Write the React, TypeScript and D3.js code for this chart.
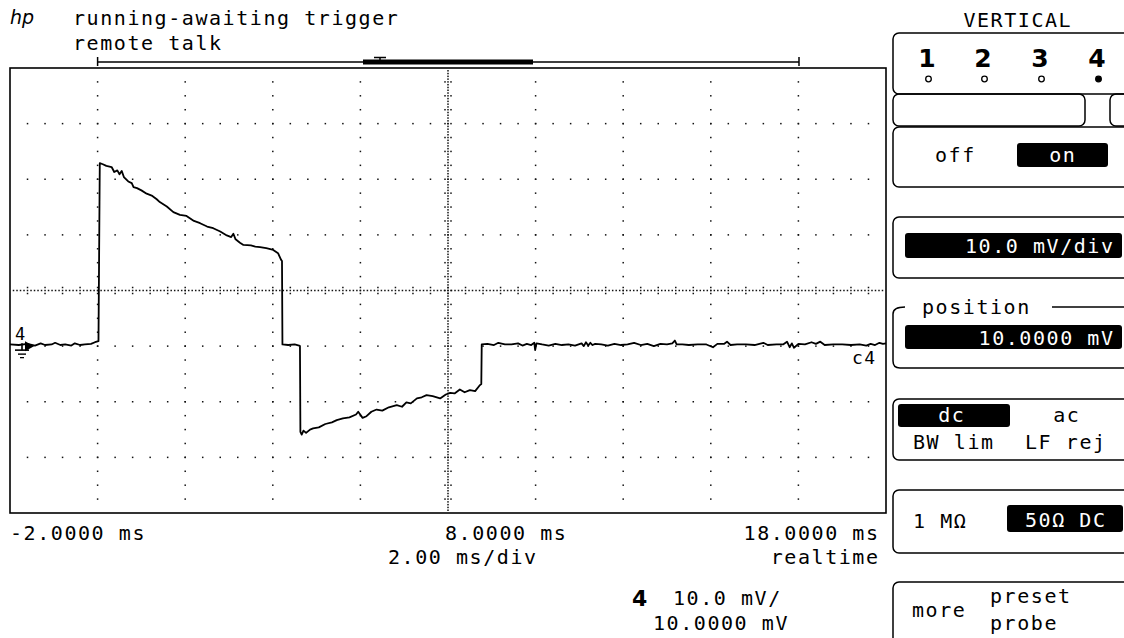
import React from "react";
import * as d3 from "d3";

// Channel 4 capture, time in ms and amplitude in mV
const preTrigger: [number, number][] = [
  [-2.0, 0.3], [-1.8, 0.2], [-1.6, 0.4], [-1.43, 0.1], [-1.3, 0.5], [-1.2, 0.2],
  [-1.05, 0.3], [-0.97, 0.6], [-0.85, 0.2], [-0.74, 0.3], [-0.6, 0.1], [-0.52, 0.5],
  [-0.4, 0.2], [-0.29, 0.3], [-0.15, 0.4], [-0.06, 0.7], [0.02, 0.9],
];

const positivePulse: [number, number][] = [
  [0.05, 32.9], [0.12, 32.7], [0.2, 32.4], [0.32, 32.2], [0.38, 31.3], [0.45, 31.6],
  [0.5, 30.9], [0.55, 31.5], [0.6, 30.4], [0.7, 29.6], [0.78, 29.3], [0.82, 28.6],
  [0.9, 28.4], [1.0, 28.0], [1.12, 27.4], [1.25, 27.0], [1.35, 26.4], [1.42, 25.9],
  [1.58, 25.1], [1.73, 24.1], [1.88, 23.6], [2.03, 23.4], [2.2, 22.5], [2.34, 22.1],
  [2.5, 21.5], [2.64, 21.2], [2.8, 20.6], [2.95, 19.9], [3.05, 19.6], [3.1, 20.2],
  [3.15, 19.2], [3.25, 18.6], [3.33, 18.2], [3.5, 18.1], [3.6, 17.9], [3.71, 17.8],
  [3.85, 17.6], [4.01, 17.3], [4.12, 16.7], [4.19, 15.5], [4.21, 15.3],
];

const midGap: [number, number][] = [
  [4.22, 0.3], [4.35, 0.2], [4.5, 0.3], [4.6, 0.1], [4.62, 0.0],
];

const negativePulse: [number, number][] = [
  [4.63, -15.4], [4.66, -15.9], [4.7, -15.2], [4.76, -15.6], [4.85, -15.0], [4.92, -14.8],
  [5.05, -14.6], [5.2, -14.0], [5.35, -13.7], [5.46, -13.3], [5.6, -13.0], [5.75, -12.8],
  [5.9, -12.3], [5.95, -11.8], [6.05, -12.9], [6.14, -12.6], [6.25, -11.8], [6.37, -11.4],
  [6.5, -11.6], [6.65, -11.0], [6.83, -10.6], [6.95, -10.9], [7.05, -10.1], [7.15, -10.3],
  [7.29, -9.4], [7.4, -9.2], [7.51, -8.8], [7.65, -9.0], [7.82, -9.4], [7.95, -8.7],
  [8.05, -8.4], [8.15, -8.5], [8.27, -7.8], [8.38, -8.3], [8.5, -7.9], [8.62, -8.1],
  [8.73, -7.0], [8.76, -6.8],
];

const postPulse: [number, number][] = [
  [8.77, 0.3], [8.9, 0.4], [9.05, 0.2], [9.15, 0.6], [9.3, 0.3], [9.45, 0.3], [9.6, 0.5],
  [9.7, 0.1], [9.8, 0.4], [9.9, 0.2], [9.97, 0.6], [9.99, -0.7], [10.02, 0.5], [10.15, 0.3],
  [10.3, 0.1], [10.45, 0.4], [10.6, 0.2], [10.75, 0.3], [10.9, 0.1], [11.05, 0.5],
  [11.1, 0.0], [11.15, 0.7], [11.2, 0.1], [11.25, 0.6], [11.3, 0.2], [11.36, 0.4],
  [11.5, 0.3], [11.65, 0.1], [11.8, 0.4], [11.95, 0.2], [12.1, 0.3], [12.25, 0.6],
  [12.4, 0.2], [12.55, 0.4], [12.7, 0.0], [12.85, 0.4], [13.0, 0.3], [13.12, 0.5],
  [13.18, 1.0], [13.22, 0.3], [13.35, 0.3], [13.5, 0.2], [13.7, 0.3], [13.9, 0.3],
  [14.05, -0.2], [14.15, 0.4], [14.3, 0.4], [14.37, 0.8], [14.45, 0.2], [14.6, 0.3],
  [14.8, 0.3], [15.0, 0.2], [15.2, 0.6], [15.3, 0.2], [15.5, 0.3], [15.65, 0.3],
  [15.74, 0.8], [15.8, -0.2], [15.85, 0.5], [15.9, -0.3], [16.0, 0.4], [16.15, 0.3],
  [16.3, 0.7], [16.4, 0.4], [16.5, 0.8], [16.6, 0.2], [16.8, 0.3], [17.0, 0.3],
  [17.2, 0.2], [17.4, 0.3], [17.55, 0.1], [17.65, 0.4], [17.75, 0.2], [17.85, 0.6],
  [17.93, 0.4], [18.0, 0.5],
];

// Axis settings: 10 horizontal divisions of 2 ms, 8 vertical divisions of 10 mV
const timeDomain: [number, number] = [-2, 18];
const voltDomain: [number, number] = [-30, 50];
const timePerDiv = 2;
const voltPerDiv = 10;
const timeCenter = 8;
const voltCenter = 10;

const timeLabels = ["-2.0000 ms", "8.0000 ms", "18.0000 ms"];
const channelNumbers = ["1", "2", "3", "4"];
const activeChannel = "4";

const W = 1124;
const H = 638;
const PLOT = { left: 10, right: 886, top: 68, bottom: 513 };

const MONO = "'DejaVu Sans Mono', monospace";
const FS = 20;
const ADV = 13.6;

function Mono({
  x, y, text, anchor = "start", fill = "#000", size = FS,
}: { x: number; y: number; text: string; anchor?: "start" | "middle" | "end"; fill?: string; size?: number }) {
  const adv = (ADV * size) / FS;
  const ls = adv - 0.602 * size;
  const width = text.length * adv - ls;
  const sx = anchor === "start" ? x : anchor === "end" ? x - width : x - width / 2;
  return (
    <text x={sx} y={y} fontFamily={MONO} fontSize={size} letterSpacing={ls} fill={fill}>
      {text}
    </text>
  );
}

function Box({ x1, y1, x2, y2, r = 6 }: { x1: number; y1: number; x2: number; y2: number; r?: number }) {
  return (
    <rect x={x1} y={y1} width={x2 - x1} height={y2 - y1} rx={r} ry={r}
      fill="none" stroke="#000" strokeWidth={1.5} />
  );
}

export default function App() {
  const x = d3.scaleLinear().domain(timeDomain).range([PLOT.left, PLOT.right]);
  const y = d3.scaleLinear().domain(voltDomain).range([PLOT.bottom, PLOT.top]);

  const trace = [...preTrigger, ...positivePulse, ...midGap, ...negativePulse, ...postPulse];
  const line = d3.line<[number, number]>().x((d) => x(d[0])).y((d) => y(d[1]));

  const timeGrid = d3.range(timeDomain[0] + timePerDiv, timeDomain[1] - 0.001, timePerDiv);
  const voltGrid = d3.range(voltDomain[0] + voltPerDiv, voltDomain[1] - 0.001, voltPerDiv);
  const voltQuarter = d3.range(voltDomain[0], voltDomain[1] + 0.001, voltPerDiv / 4);
  const timeFifth = d3.range(timeDomain[0], timeDomain[1] + 0.001, timePerDiv / 5);

  const dots: { cx: number; cy: number }[] = [];
  // dots along vertical division lines
  timeGrid.forEach((t) => {
    if (t === timeCenter) return;
    voltQuarter.forEach((v) => dots.push({ cx: x(t), cy: y(v) }));
  });
  // dots along horizontal division lines
  voltGrid.forEach((v) => {
    if (v === voltCenter) return;
    timeFifth.forEach((t) => dots.push({ cx: x(t), cy: y(v) }));
  });
  // dense center horizontal line with tick marks
  const yc = y(voltCenter);
  d3.range(timeDomain[0], timeDomain[1] + 0.001, timePerDiv / 25).forEach((t) =>
    dots.push({ cx: x(t), cy: yc })
  );
  timeFifth.forEach((t) => {
    dots.push({ cx: x(t), cy: yc - 3 });
    dots.push({ cx: x(t), cy: yc + 3 });
  });
  // dense center vertical line with tick marks
  const xc = x(timeCenter);
  d3.range(voltDomain[0], voltDomain[1] + 0.001, voltPerDiv / 20).forEach((v) =>
    dots.push({ cx: xc, cy: y(v) })
  );
  voltQuarter.forEach((v) => {
    dots.push({ cx: xc - 3, cy: y(v) });
    dots.push({ cx: xc + 3, cy: y(v) });
  });

  const plotDots = dots.filter(
    (d) => d.cx > PLOT.left + 1 && d.cx < PLOT.right - 1 && d.cy > PLOT.top + 1 && d.cy < PLOT.bottom - 1
  );

  const y0 = y(0);
  const chX = [927, 983, 1040, 1097];

  return (
    <svg width={W} height={H} viewBox={`0 0 ${W} ${H}`}
      style={{ position: "absolute", left: 0, top: 0, display: "block", background: "#fff" }}>
      <rect x={0} y={0} width={W} height={H} fill="#fff" />

      {/* status header */}
      <text x={10} y={24} fontFamily="'DejaVu Sans', sans-serif" fontStyle="italic" fontSize={19} fill="#000">hp</text>
      <Mono x={73} y={25} text="running-awaiting trigger" />
      <Mono x={73} y={50} text="remote talk" />

      {/* memory / window bar */}
      <line x1={x(0)} x2={799} y1={62} y2={62} stroke="#000" strokeWidth={1.5} />
      <line x1={x(0)} x2={x(0)} y1={57} y2={66} stroke="#000" strokeWidth={1.5} />
      <line x1={799} x2={799} y1={57} y2={66} stroke="#000" strokeWidth={1.5} />
      <rect x={363} y={59.5} width={170} height={5} fill="#000" />
      <line x1={374} x2={386} y1={57.5} y2={57.5} stroke="#000" strokeWidth={1.5} />
      <line x1={380} x2={380} y1={57.5} y2={62} stroke="#000" strokeWidth={1.5} />

      {/* graticule */}
      {plotDots.map((d, i) => (
        <rect key={i} x={d.cx - 0.75} y={d.cy - 0.75} width={1.5} height={1.5} fill="#111" />
      ))}
      <rect x={PLOT.left} y={PLOT.top} width={PLOT.right - PLOT.left} height={PLOT.bottom - PLOT.top}
        fill="none" stroke="#000" strokeWidth={1.6} />

      {/* waveform */}
      <path d={line(trace) || ""} fill="none" stroke="#000" strokeWidth={1.8} strokeLinejoin="round" />

      {/* channel marker and ground symbol */}
      <text x={15} y={340} fontFamily={MONO} fontSize={17} fill="#000">4</text>
      <path d={`M${25},${y0 - 5} L${34},${y0} L${25},${y0 + 5} Z`} fill="#000" />
      <line x1={22} x2={22} y1={y0 - 3} y2={y0 + 4} stroke="#000" strokeWidth={1.6} />
      <line x1={15} x2={29} y1={y0 + 4} y2={y0 + 4} stroke="#000" strokeWidth={1.6} />
      <line x1={18} x2={26} y1={y0 + 8} y2={y0 + 8} stroke="#000" strokeWidth={1.4} />
      <line x1={20} x2={24} y1={y0 + 11.5} y2={y0 + 11.5} stroke="#000" strokeWidth={1.3} />
      <Mono x={852} y={364} text="c4" size={18} />

      {/* time axis labels */}
      <Mono x={PLOT.left} y={540} text={timeLabels[0]} />
      <Mono x={x(timeCenter) - 3} y={540} text={timeLabels[1]} />
      <Mono x={878} y={540} text={timeLabels[2]} anchor="end" />
      <Mono x={388} y={564} text={`${timePerDiv.toFixed(2)} ms/div`} />
      <Mono x={878} y={564} text="realtime" anchor="end" />

      {/* channel readout */}
      <text x={632} y={606} fontFamily="'DejaVu Sans', sans-serif" fontWeight="bold" fontSize={22} fill="#000">4</text>
      <Mono x={673} y={605} text={`${voltPerDiv.toFixed(1)} mV/`} />
      <Mono x={653} y={630} text={`${voltCenter.toFixed(4)} mV`} />

      {/* softkey panel */}
      <Mono x={1017} y={27} text="VERTICAL" anchor="middle" />
      <Box x1={893} y1={33} x2={1150} y2={94} />
      {channelNumbers.map((c, i) => (
        <g key={c}>
          <text x={chX[i]} y={67} textAnchor="middle" fontFamily="'DejaVu Sans', sans-serif"
            fontWeight="bold" fontSize={25} fill="#000">{c}</text>
          <circle cx={chX[i] + 1.5} cy={79} r={2.8}
            fill={c === activeChannel ? "#000" : "#fff"} stroke="#000" strokeWidth={1.3} />
        </g>
      ))}
      <Box x1={893} y1={94} x2={1085} y2={126} />
      <Box x1={1110} y1={94} x2={1150} y2={126} />

      <Box x1={893} y1={127} x2={1150} y2={187} />
      <Mono x={935} y={162} text="off" />
      <rect x={1017} y={143} width={91} height={24} rx={3} fill="#000" />
      <Mono x={1062} y={162} text="on" anchor="middle" fill="#fff" />

      <Box x1={893} y1={217} x2={1150} y2={278} />
      <rect x={905} y={233} width={217} height={25} rx={3} fill="#000" />
      <Mono x={1113} y={253} text={`${voltPerDiv.toFixed(1)} mV/div`} anchor="end" fill="#fff" />

      <path d="M905,307 Q893,307 893,314 L893,361 Q893,368 900,368 L1150,368" fill="none" stroke="#000" strokeWidth={1.5} />
      <line x1={1052} x2={1150} y1={307} y2={307} stroke="#000" strokeWidth={1.5} />
      <Mono x={922} y={314} text="position" />
      <rect x={905} y={325} width={217} height={24} rx={3} fill="#000" />
      <Mono x={1113} y={345} text={`${voltCenter.toFixed(4)} mV`} anchor="end" fill="#fff" />

      <Box x1={893} y1={399} x2={1150} y2={460} />
      <rect x={898} y={404} width={112} height={23} rx={3} fill="#000" />
      <Mono x={951} y={422} text="dc" anchor="middle" fill="#fff" />
      <Mono x={1066} y={422} text="ac" anchor="middle" />
      <Mono x={913} y={449} text="BW lim" />
      <Mono x={1025} y={449} text="LF rej" />

      <Box x1={893} y1={490} x2={1150} y2={553} />
      <Mono x={913} y={528} text="1 MΩ" />
      <rect x={1007} y={505} width={116} height={27} rx={3} fill="#000" />
      <Mono x={1065} y={527} text="50Ω DC" anchor="middle" fill="#fff" />

      <Box x1={893} y1={582} x2={1150} y2={680} />
      <Mono x={912} y={617} text="more" />
      <Mono x={990} y={603} text="preset" />
      <Mono x={990} y={630} text="probe" />
    </svg>
  );
}
